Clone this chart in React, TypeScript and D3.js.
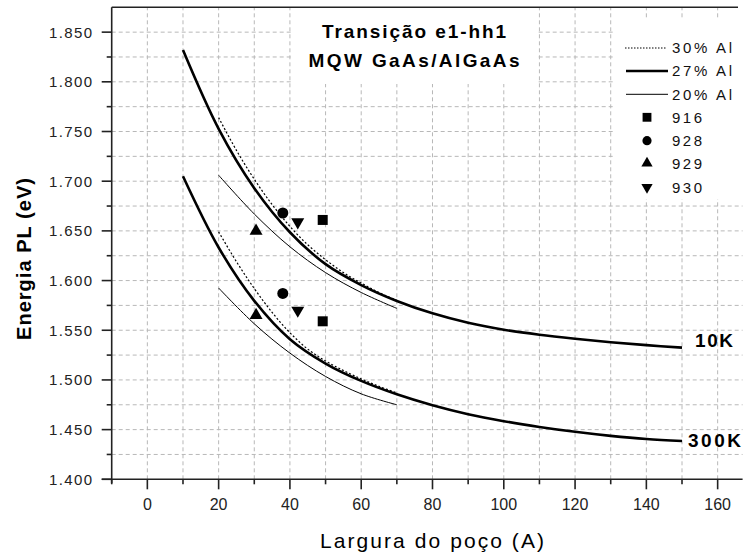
import React from "react";
import * as d3 from "d3";

// ---- data ----
const widthsLong = [10, 20, 30, 40, 50, 60, 70, 80, 90, 100, 110, 120, 130, 140, 150];
const e10K_27 = [1.832, 1.7527, 1.693, 1.6486, 1.6165, 1.5955, 1.5795, 1.567, 1.5575, 1.5505, 1.5455, 1.5415, 1.538, 1.535, 1.5325];
const e300K_27 = [1.705, 1.6333, 1.5796, 1.541, 1.5165, 1.499, 1.4855, 1.4745, 1.4655, 1.4585, 1.4527, 1.4478, 1.4437, 1.4405, 1.4385];

const widthsDotted = [20, 25, 30, 35, 40, 45, 50, 55, 60, 65, 70];
const e10K_30 = [1.764, 1.731, 1.702, 1.6765, 1.6545, 1.636, 1.621, 1.608, 1.5975, 1.588, 1.58];
const e300K_30 = [1.649, 1.619, 1.592, 1.568, 1.5475, 1.531, 1.519, 1.5095, 1.501, 1.4935, 1.487];

const widthsThin = [20, 30, 40, 50, 60, 70];
const e10K_20 = [1.706, 1.667, 1.634, 1.608, 1.588, 1.572];
const e300K_20 = [1.5925, 1.5565, 1.527, 1.5035, 1.486, 1.475];

const sampleNames = ["916", "928", "929", "930"];
const sampleWidths = [49.2, 38.0, 30.5, 42.2];
const sample10K = [1.661, 1.668, 1.65, 1.659];
const sample300K = [1.559, 1.587, 1.565, 1.57];

const seriesNames = ["30% Al", "27% Al", "20% Al"];
const xTickValues = [0, 20, 40, 60, 80, 100, 120, 140, 160];
const yTickValues = [1.4, 1.45, 1.5, 1.55, 1.6, 1.65, 1.7, 1.75, 1.8, 1.85];
const titleLines = ["Transição e1-hh1", "MQW GaAs/AlGaAs"];
const tempLabels = ["10K", "300K"];

// ---- layout ----
const W = 743;
const H = 557;
const x = d3.scaleLinear().domain([-10, 167]).range([111.7, 742.6]);
const y = d3.scaleLinear().domain([1.4, 1.875]).range([479.3, 7.3]);

const font = "'Liberation Sans', Arial, sans-serif";

const line = (xs: number[], ys: number[]) =>
  d3
    .line<number>()
    .x((_, i) => x(xs[i]))
    .y((d) => y(d))
    .curve(d3.curveCatmullRom.alpha(0.5))(ys) || "";

const symTypes = [d3.symbolSquare, d3.symbolCircle, d3.symbolTriangle, d3.symbolTriangle];
const symSizes = [100, 95, 73, 73];
const symRot = [0, 0, 0, 180];
const legSizes = [78, 66, 55, 55];

export default function App() {
  const xMinor = d3.range(-10, 167, 10);
  const xGrid = d3.range(0, 161, 10);
  const yGrid = d3.range(1.425, 1.86, 0.025);
  const yMinor = d3.range(1.425, 1.86, 0.05);
  const axisColor = "#222";
  const gridColor = "#b8b8b8";
  const legendRows = [48, 71, 94.3, 117.3, 140.7, 163.3, 187.3];

  return (
    <div style={{ position: "fixed", left: 0, top: 0 }}>
      <svg width={W} height={H} style={{ display: "block", background: "#fff" }}>
        <rect x={0} y={0} width={W} height={H} fill="#fff" />
        {/* grid */}
        <g stroke={gridColor} strokeWidth={1} strokeDasharray="4,3">
          {xGrid.map((v) => (
            <line key={"gx" + v} x1={x(v)} x2={x(v)} y1={y(1.4)} y2={y(1.875)} />
          ))}
          {yGrid.map((v) => (
            <line key={"gy" + v} x1={x(-10)} x2={x(167)} y1={y(v)} y2={y(v)} />
          ))}
        </g>
        {/* white boxes behind title and legend */}
        <rect x={292} y={8} width={245} height={76} fill="#fff" />
        <rect x={614} y={19} width={129} height={180} fill="#fff" />

        {/* axes */}
        <g stroke={axisColor} strokeWidth={1.6} fill="none">
          <line x1={x(-10)} x2={x(-10)} y1={y(1.875)} y2={y(1.4) + 4} />
          <line x1={x(-10) - 10} x2={x(167)} y1={y(1.4)} y2={y(1.4)} />
          <line x1={x(-10)} x2={738} y1={y(1.875)} y2={y(1.875)} />
          {xTickValues.map((v) => (
            <line key={"xt" + v} x1={x(v)} x2={x(v)} y1={y(1.4)} y2={y(1.4) + 10} />
          ))}
          {xMinor.filter((v) => v % 20 !== 0).map((v) => (
            <line key={"xm" + v} x1={x(v)} x2={x(v)} y1={y(1.4)} y2={y(1.4) + 5} />
          ))}
          {yTickValues.map((v) => (
            <line key={"yt" + v} x1={x(-10) - 10} x2={x(-10)} y1={y(v)} y2={y(v)} />
          ))}
          {yMinor.map((v) => (
            <line key={"ym" + v} x1={x(-10) - 5} x2={x(-10)} y1={y(v)} y2={y(v)} />
          ))}
        </g>
        {/* tick labels */}
        <g fontFamily={font} fill="#222">
          {xTickValues.map((v) => (
            <text key={"xl" + v} x={x(v)} y={510} fontSize={16} textAnchor="middle">
              {v}
            </text>
          ))}
          {yTickValues.map((v) => (
            <text
              key={"yl" + v}
              x={92}
              y={y(v) + 5.4}
              fontSize={15}
              textAnchor="end"
              textLength={43}
              lengthAdjust="spacing"
            >
              {d3.format(".3f")(v)}
            </text>
          ))}
        </g>
        {/* axis titles */}
        <text x={432} y={548} fontFamily={font} fontSize={21} textAnchor="middle" textLength={224} lengthAdjust="spacing">
          Largura do poço (A)
        </text>
        <text
          transform={`translate(31,259) rotate(-90)`}
          fontFamily={font}
          fontSize={20}
          fontWeight="bold"
          textAnchor="middle"
          textLength={162}
          lengthAdjust="spacing"
        >
          Energia PL (eV)
        </text>

        {/* curves */}
        <g fill="none" stroke="#000">
          <path d={line(widthsLong, e10K_27)} strokeWidth={2.6} />
          <path d={line(widthsLong, e300K_27)} strokeWidth={2.6} />
          <path d={line(widthsThin, e10K_20)} strokeWidth={1} />
          <path d={line(widthsThin, e300K_20)} strokeWidth={1} />
          <path d={line(widthsDotted, e10K_30)} strokeWidth={1.2} strokeDasharray="2,2" />
          <path d={line(widthsDotted, e300K_30)} strokeWidth={1.2} strokeDasharray="2,2" />
        </g>

        {/* samples */}
        <g fill="#000">
          {sampleNames.map((n, i) => {
            const p = d3.symbol().type(symTypes[i]).size(symSizes[i])() || "";
            return (
              <g key={"s" + n}>
                <path d={p} transform={`translate(${x(sampleWidths[i])},${y(sample10K[i])}) rotate(${symRot[i]})`} />
                <path d={p} transform={`translate(${x(sampleWidths[i])},${y(sample300K[i])}) rotate(${symRot[i]})`} />
              </g>
            );
          })}
        </g>

        {/* temperature labels */}
        <text x={695} y={346.5} fontFamily={font} fontSize={19} fontWeight="bold" textLength={38} lengthAdjust="spacing">
          {tempLabels[0]}
        </text>
        <text x={688} y={446.5} fontFamily={font} fontSize={19} fontWeight="bold" textLength={53} lengthAdjust="spacing">
          {tempLabels[1]}
        </text>

        {/* title */}
        <text x={414} y={38.3} fontFamily={font} fontSize={19} fontWeight="bold" textAnchor="middle" textLength={184} lengthAdjust="spacing">
          {titleLines[0]}
        </text>
        <text x={414} y={66.7} fontFamily={font} fontSize={19} fontWeight="bold" textAnchor="middle" textLength={211} lengthAdjust="spacing">
          {titleLines[1]}
        </text>

        {/* legend */}
        <g fontFamily={font} fontSize={15} fill="#111">
          <line x1={625} x2={667} y1={legendRows[0]} y2={legendRows[0]} stroke="#000" strokeWidth={1} strokeDasharray="1.5,1.5" />
          <line x1={626} x2={668} y1={legendRows[1]} y2={legendRows[1]} stroke="#000" strokeWidth={2.6} />
          <line x1={626} x2={668} y1={legendRows[2]} y2={legendRows[2]} stroke="#000" strokeWidth={1} />
          {seriesNames.map((s, i) => (
            <text key={"ln" + s} x={672} y={legendRows[i] + 5.4} textLength={60} lengthAdjust="spacing">
              {s}
            </text>
          ))}
          {sampleNames.map((n, i) => {
            const p = d3.symbol().type(symTypes[i]).size(legSizes[i])() || "";
            return (
              <g key={"lg" + n}>
                <path d={p} fill="#000" transform={`translate(647,${legendRows[i + 3]}) rotate(${symRot[i]})`} />
                <text x={672} y={legendRows[i + 3] + 5.4} textLength={30} lengthAdjust="spacing">
                  {n}
                </text>
              </g>
            );
          })}
        </g>
      </svg>
    </div>
  );
}
